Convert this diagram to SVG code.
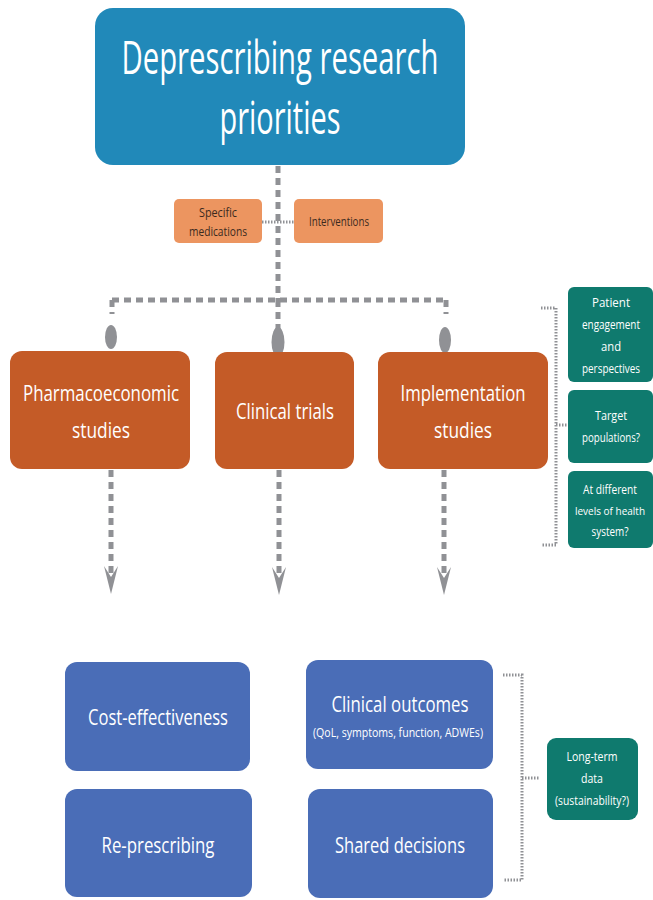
<svg xmlns="http://www.w3.org/2000/svg" width="653" height="900" viewBox="0 0 653 900">
<style>
text{font-family:"Open Sans","Liberation Sans",sans-serif;text-anchor:middle}
.w{fill:#ffffff}
.d{fill:#3b2a1e}
.title{fill:#2189b9}
.salmon{fill:#ec9560}
.orange{fill:#c45b27}
.teal{fill:#0f7a6e}
.blue{fill:#4a6db7}
.dash{stroke:#909195;stroke-width:5;stroke-dasharray:7 5;fill:none}
.dot{stroke:#909195;stroke-width:3;stroke-dasharray:1.5 1.5;fill:none}
.head{fill:#909195}
</style>
<g id="connectors">
<path class="dash" d="M278 166V300"/>
<path class="dot" d="M262 222H294"/>
<path class="dash" d="M112 300H446M112 300V314M446 300V314M278 300V330"/>
<ellipse class="head" cx="111" cy="337" rx="6" ry="12"/>
<ellipse class="head" cx="278" cy="342" rx="6.5" ry="15"/>
<ellipse class="head" cx="445" cy="340" rx="6" ry="13"/>
<path class="dash" d="M111 470V574M279 470V574M444 470V574"/>
<polygon class="head" points="104,566 111,594 118,566 111,577"/>
<polygon class="head" points="272,567 279,595 286,567 279,578"/>
<polygon class="head" points="437,567 444,595 451,567 444,578"/>
<path class="dot" d="M541 308H556V545H541M556 425H568"/>
<path class="dot" d="M503 675H522V880H503M522 778H540"/>
</g>
<g id="title">
<rect class="title" x="95" y="8" width="370" height="157" rx="18"/>
<text class="w" x="280" y="74" font-size="46" textLength="317" lengthAdjust="spacingAndGlyphs">Deprescribing research</text>
<text class="w" x="280" y="134" font-size="46" textLength="121" lengthAdjust="spacingAndGlyphs">priorities</text>
</g>
<g id="specific">
<rect class="salmon" x="174" y="199" width="88" height="44" rx="5"/>
<text class="d" x="218" y="217" font-size="12" textLength="38" lengthAdjust="spacingAndGlyphs">Specific</text>
<text class="d" x="218" y="236" font-size="12" textLength="58" lengthAdjust="spacingAndGlyphs">medications</text>
</g>
<g id="interventions">
<rect class="salmon" x="294" y="199" width="89" height="44" rx="5"/>
<text class="d" x="339" y="226" font-size="12" textLength="60" lengthAdjust="spacingAndGlyphs">Interventions</text>
</g>
<g id="pharmaco">
<rect class="orange" x="10" y="351" width="180" height="118" rx="12"/>
<text class="w" x="101" y="401" font-size="22" textLength="156" lengthAdjust="spacingAndGlyphs">Pharmacoeconomic</text>
<text class="w" x="101" y="438" font-size="22" textLength="58" lengthAdjust="spacingAndGlyphs">studies</text>
</g>
<g id="clinical-trials">
<rect class="orange" x="215" y="352" width="139" height="117" rx="12"/>
<text class="w" x="285" y="419" font-size="22" textLength="98" lengthAdjust="spacingAndGlyphs">Clinical trials</text>
</g>
<g id="implementation">
<rect class="orange" x="378" y="352" width="170" height="117" rx="12"/>
<text class="w" x="463" y="401" font-size="22" textLength="125" lengthAdjust="spacingAndGlyphs">Implementation</text>
<text class="w" x="463" y="438" font-size="22" textLength="58" lengthAdjust="spacingAndGlyphs">studies</text>
</g>
<g id="patient">
<rect class="teal" x="568" y="287" width="85" height="95" rx="6"/>
<text class="w" x="611" y="307" font-size="12" textLength="38" lengthAdjust="spacingAndGlyphs">Patient</text>
<text class="w" x="611" y="329" font-size="12" textLength="58" lengthAdjust="spacingAndGlyphs">engagement</text>
<text class="w" x="611" y="351" font-size="12" textLength="20" lengthAdjust="spacingAndGlyphs">and</text>
<text class="w" x="611" y="373" font-size="12" textLength="58" lengthAdjust="spacingAndGlyphs">perspectives</text>
</g>
<g id="target">
<rect class="teal" x="568" y="390" width="85" height="73" rx="6"/>
<text class="w" x="611" y="420" font-size="12" textLength="32" lengthAdjust="spacingAndGlyphs">Target</text>
<text class="w" x="611" y="442" font-size="12" textLength="58" lengthAdjust="spacingAndGlyphs">populations?</text>
</g>
<g id="levels">
<rect class="teal" x="568" y="471" width="85" height="77" rx="6"/>
<text class="w" x="610" y="494" font-size="12" textLength="54" lengthAdjust="spacingAndGlyphs">At different</text>
<text class="w" x="610" y="515" font-size="11" textLength="70" lengthAdjust="spacingAndGlyphs">levels of health</text>
<text class="w" x="610" y="536" font-size="12" textLength="37" lengthAdjust="spacingAndGlyphs">system?</text>
</g>
<g id="cost">
<rect class="blue" x="65" y="662" width="185" height="109" rx="12"/>
<text class="w" x="158" y="725" font-size="21" textLength="140" lengthAdjust="spacingAndGlyphs">Cost-effectiveness</text>
</g>
<g id="represcribing">
<rect class="blue" x="65" y="789" width="187" height="108" rx="12"/>
<text class="w" x="158" y="853" font-size="21" textLength="113" lengthAdjust="spacingAndGlyphs">Re-prescribing</text>
</g>
<g id="outcomes">
<rect class="blue" x="306" y="660" width="187" height="109" rx="12"/>
<text class="w" x="400" y="712" font-size="21" textLength="137" lengthAdjust="spacingAndGlyphs">Clinical outcomes</text>
<text class="w" x="398" y="737" font-size="12" textLength="170" lengthAdjust="spacingAndGlyphs">(QoL, symptoms, function, ADWEs)</text>
</g>
<g id="shared">
<rect class="blue" x="308" y="789" width="185" height="109" rx="12"/>
<text class="w" x="400" y="853" font-size="21" textLength="130" lengthAdjust="spacingAndGlyphs">Shared decisions</text>
</g>
<g id="longterm">
<rect class="teal" x="547" y="738" width="91" height="82" rx="9"/>
<text class="w" x="592" y="761" font-size="13" textLength="51" lengthAdjust="spacingAndGlyphs">Long-term</text>
<text class="w" x="592" y="783" font-size="13" textLength="22" lengthAdjust="spacingAndGlyphs">data</text>
<text class="w" x="592" y="805" font-size="13" textLength="74" lengthAdjust="spacingAndGlyphs">(sustainability?)</text>
</g>
</svg>
